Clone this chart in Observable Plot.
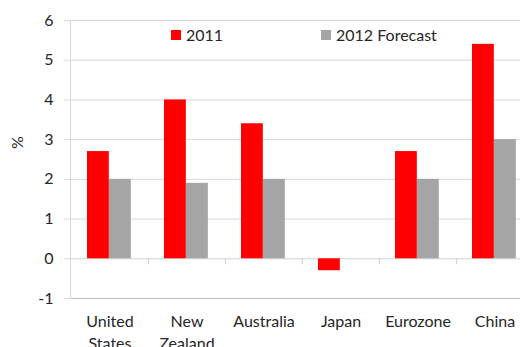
<!DOCTYPE html>
<html>
<head>
<meta charset="utf-8">
<script src="https://cdn.jsdelivr.net/npm/d3@7"></script>
<script src="https://cdn.jsdelivr.net/npm/@observablehq/plot@0.6"></script>
<style>
  html, body { margin: 0; padding: 0; background: #fff; overflow: hidden; }
  #wrap { position: relative; width: 520px; height: 347px; overflow: hidden; font-family: Lato, sans-serif; color: #262626; }
  #chart svg { max-width: none !important; }
  .legend { position: absolute; top: 25px; font-size: 16px; display: flex; align-items: center; white-space: nowrap; }
  .sw { display: inline-block; width: 10px; height: 10px; margin-right: 5px; }
  #ylab { position: absolute; left: 10px; top: 133px; font-size: 16px; transform: rotate(-90deg); transform-origin: center; }
</style>
</head>
<body>
<div id="wrap">
  <div id="chart"></div>
  <div class="legend" style="left:171px"><span class="sw" style="background:#ff0000"></span>2011</div>
  <div class="legend" style="left:321px"><span class="sw" style="background:#a5a5a5"></span>2012 Forecast</div>
  <div id="ylab">%</div>
</div>
<script>
const countries = ["United States", "New Zealand", "Australia", "Japan", "Eurozone", "China"];
const countryLabels = ["United\nStates", "New\nZealand", "Australia", "Japan", "Eurozone", "China"];
const series = ["2011", "2012 Forecast"];
const values2011 = [2.7, 4.0, 3.4, -0.3, 2.7, 5.4];
const values2012 = [2.0, 1.9, 2.0, 0, 2.0, 3.0];
const yTicks = [-1, 0, 1, 2, 3, 4, 5, 6];
const colors = ["#ff0000", "#a5a5a5"];

const rows2011 = countries.map((c, i) => ({country: c, series: series[0], value: values2011[i]}));
const rows2012 = countries.map((c, i) => ({country: c, series: series[1], value: values2012[i]}));

const chart = Plot.plot({
  width: 540,
  height: 347,
  marginLeft: 70,
  marginRight: 7,
  marginTop: 20,
  marginBottom: 49,
  style: {fontFamily: "Lato, sans-serif", fontSize: "16px", color: "#262626", background: "#fff", maxWidth: "none"},
  x: {domain: countries, padding: 0},
  y: {domain: [-1, 6]},
  marks: [
    Plot.ruleY(yTicks.filter(t => t > 0), {stroke: "#d9d9d9", strokeOpacity: 1}),
    Plot.axisY({ticks: yTicks, tickSize: 6, tickPadding: 11, stroke: "#d9d9d9", strokeOpacity: 1, label: null, fontSize: 16,
      tickFormat: d => (d < 0 ? "-" : "") + Math.abs(d)}),
    Plot.ruleY([0], {stroke: "#d0d0d0", strokeOpacity: 1}),
    Plot.ruleY([-1], {stroke: "#bfbfbf", strokeOpacity: 1}),
    Plot.ruleX(countries.slice(1), {x: d => d, dx: -77.17 / 2, y1: 0, y2: -0.15, stroke: "#d0d0d0", strokeOpacity: 1}),
    Plot.frame({anchor: "left", stroke: "#d9d9d9", strokeOpacity: 1}),
    Plot.barY(rows2011, {x: "country", y: "value", fill: colors[0], insetLeft: 16, insetRight: 39.17}),
    Plot.barY(rows2012, {x: "country", y: "value", fill: colors[1], insetLeft: 38, insetRight: 17.17}),
    Plot.axisX({tickSize: 0, tickPadding: 13, tickFormat: d => countryLabels[countries.indexOf(d)], label: null, fontSize: 16, lineHeight: 1.375})
  ]
});
chart.style.maxWidth = "none";
document.getElementById("chart").appendChild(chart);
</script>
</body>
</html>
